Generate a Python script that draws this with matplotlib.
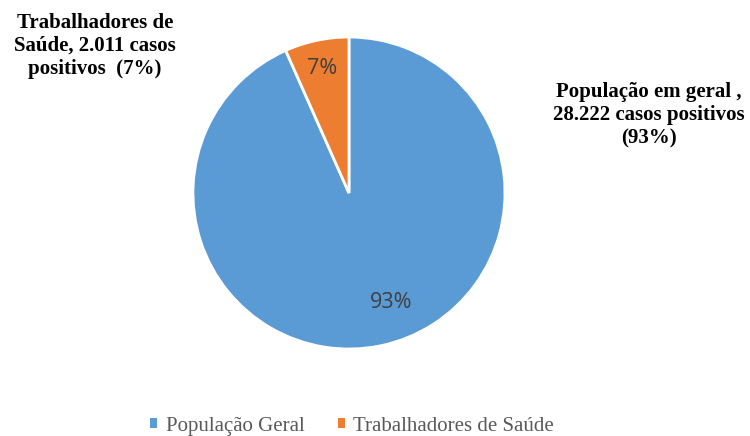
import matplotlib
matplotlib.use("Agg")
import matplotlib.pyplot as plt
import numpy as np

categories = ["População Geral", "Trabalhadores de Saúde"]
values = [28222, 2011]
colors = ["#5B9BD5", "#ED7D31"]
annot_left = "Trabalhadores de\nSaúde, 2.011 casos\npositivos  (7%)"
annot_right = "População em geral ,\n28.222 casos positivos\n(93%)"

fig = plt.figure(figsize=(7.5, 4.36), dpi=100)
ax = fig.add_axes([0.2573, 0.1995, 0.416, 0.7156])

wedges, texts, autotexts = ax.pie(
    values, colors=colors, startangle=90, counterclock=False,
    autopct=lambda p: f"{p:.0f}%", pctdistance=0.78,
    wedgeprops=dict(edgecolor="white", linewidth=2.0),
    textprops=dict(fontsize=15.5, color="#404040", family=["Open Sans", "DejaVu Sans"]),
)
ax.set_aspect("equal")
ax.set_xlim(-1, 1)
ax.set_ylim(-1, 1)
autotexts[0].set_position((0.27, -0.70))
autotexts[1].set_position((-0.17, 0.80))

fig.text(95/750, 1-46/436, annot_left, ha="center", va="center", fontsize=15,
         fontweight="bold", family=["Liberation Serif"], linespacing=1.2)
fig.text(649/750, 1-115/436, annot_right, ha="center", va="center", fontsize=15,
         fontweight="bold", family=["Liberation Serif"], linespacing=1.2)

leg = fig.legend(wedges, categories, loc="center", bbox_to_anchor=(352/750, 1-426/436),
                 ncol=2, frameon=False, handlelength=0.35, handleheight=0.35,
                 handletextpad=0.4, columnspacing=1.6,
                 prop=dict(family="Liberation Serif", size=15))
for t in leg.get_texts():
    t.set_color("#595959")
for h in leg.legend_handles:
    h.set_edgecolor("none")

fig.savefig("out.png", dpi=100)
